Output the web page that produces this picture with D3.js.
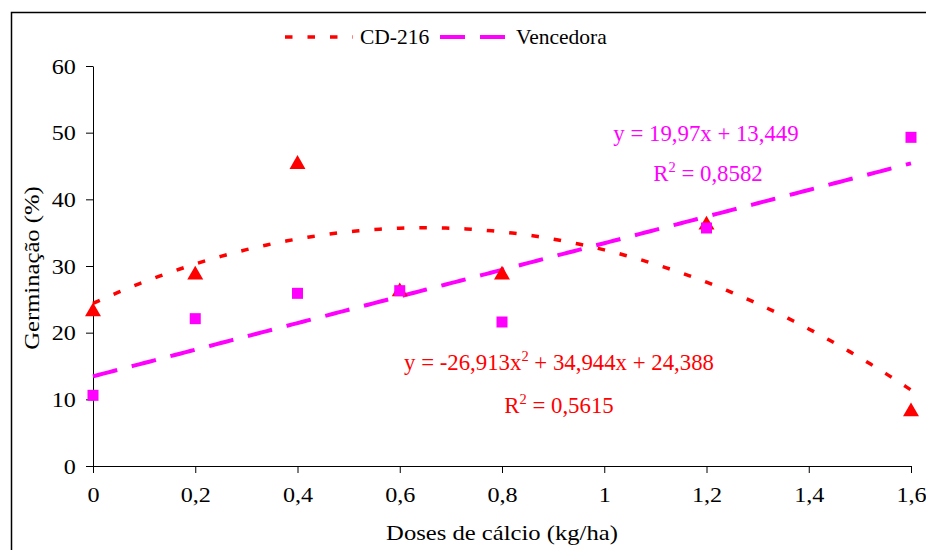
<!DOCTYPE html>
<html><head><meta charset="utf-8">
<script src="https://cdn.jsdelivr.net/npm/d3@7"></script>
<style>body{margin:0;background:#fff}svg{display:block}
svg text{font-family:"Liberation Serif",Tinos,"Times New Roman",Times,serif !important}</style>
</head><body><svg id="c" width="926" height="550"></svg>
<script>
const doses = [0, 0.2, 0.4, 0.6, 0.8, 1.2, 1.6];
const cd216 = [23.5, 29.0, 45.6, 26.5, 29.0, 36.5, 8.5];
const vencedora = [10.6, 22.1, 25.9, 26.3, 21.6, 35.7, 49.3];
const xTicks = [0, 0.2, 0.4, 0.6, 0.8, 1, 1.2, 1.4, 1.6];
const yTicks = [0, 10, 20, 30, 40, 50, 60];
const cdCoef = [24.388, 34.944, -26.913];   // c0 + c1 x + c2 x^2
const vcCoef = [13.449, 19.97];
const seriesNames = ["CD-216", "Vencedora"];
const colors = ["#ff0000", "#ff00ff"];

const svg = d3.select("#c");
const x = d3.scaleLinear().domain([0, 1.6]).range([93, 911]);
const y = d3.scaleLinear().domain([0, 60]).range([466, 66]);
const fmt = d => String(d).replace(".", ",");
const FF = '"Liberation Serif", Tinos, "Times New Roman", Times, serif';

// outer frame
svg.append("rect").attr("x", 11.5).attr("y", 12.5).attr("width", 940).attr("height", 560)
  .attr("fill", "none").attr("stroke", "#000").attr("stroke-width", 1.5);

// axes
const gy = svg.append("g").attr("transform", "translate(93,0)")
  .call(d3.axisLeft(y).tickValues(yTicks).tickSize(7).tickSizeOuter(0).tickFormat(d => d));
const gx = svg.append("g").attr("transform", "translate(0,466)")
  .call(d3.axisBottom(x).tickValues(xTicks).tickSize(7).tickSizeOuter(0).tickFormat(fmt));
[gx, gy].forEach(g => {
  g.attr("font-family", FF).attr("font-size", 21);
  g.select(".domain").attr("stroke", "#000").attr("stroke-width", 1);
  g.selectAll(".tick line").attr("stroke", "#000");
  g.selectAll("text").attr("fill", "#000");
});
gy.selectAll("text").attr("x", -15).attr("dy", "0.34em").attr("transform", "scale(1.15,1)");
gx.selectAll("text").attr("y", 21).attr("transform", "scale(1.15,1)");

// axis titles
svg.append("text").attr("transform", "translate(502,540) scale(1.12,1)").attr("text-anchor", "middle")
  .attr("font-family", FF).attr("font-size", 22).text("Doses de cálcio (kg/ha)");
svg.append("text").attr("transform", "translate(39,268) rotate(-90) scale(1.12,1)").attr("text-anchor", "middle")
  .attr("font-family", FF).attr("font-size", 22).text("Germinação (%)");

// trend lines
const xs = d3.range(0, 1.6001, 0.01);
const line = d3.line().x(d => x(d[0])).y(d => y(d[1]));
svg.append("path").datum(xs.map(v => [v, cdCoef[0] + cdCoef[1] * v + cdCoef[2] * v * v]))
  .attr("d", line).attr("fill", "none").attr("stroke", colors[0]).attr("stroke-width", 3.5)
  .attr("stroke-dasharray", "7.5,15");
svg.append("path").datum(xs.map(v => [v, vcCoef[0] + vcCoef[1] * v]))
  .attr("d", line).attr("fill", "none").attr("stroke", colors[1]).attr("stroke-width", 4)
  .attr("stroke-dasharray", "25,15");

// markers (triangle bounding box centred on the value)
svg.append("g").selectAll("path").data(doses).join("path")
  .attr("transform", (d, i) => `translate(${x(d)},${y(cd216[i]) + 2.3})`)
  .attr("d", d3.symbol().type(d3.symbolTriangle).size(110)).attr("fill", colors[0]);
svg.append("g").selectAll("rect").data(doses).join("rect")
  .attr("x", d => x(d) - 5.5).attr("y", (d, i) => y(vencedora[i]) - 5.5)
  .attr("width", 11).attr("height", 11).attr("fill", colors[1]);

// legend
const leg = [{x1: 285, x2: 353, tx: 360, dash: "7.5,15", w: 3.5}, {x1: 440, x2: 507, tx: 516, dash: "25,15", w: 4}];
leg.forEach((l, i) => {
  svg.append("line").attr("x1", l.x1).attr("x2", l.x2).attr("y1", 37).attr("y2", 37)
    .attr("stroke", colors[i]).attr("stroke-width", l.w).attr("stroke-dasharray", l.dash);
  svg.append("text").attr("x", l.tx).attr("y", 44).attr("font-family", FF).attr("font-size", 21.5).text(seriesNames[i]);
});

// equations
function eq(parts, cx, cy, col) {
  const t = svg.append("text").attr("x", cx).attr("y", cy).attr("text-anchor", "middle")
    .attr("font-family", FF).attr("font-size", 22.8).attr("fill", col);
  parts.forEach(p => {
    if (p.sup) t.append("tspan").attr("dy", -9).attr("font-size", 14.5).text(p.s);
    else if (p.after) t.append("tspan").attr("dy", 9).text(p.s);
    else t.append("tspan").text(p.s);
  });
}
eq([{s: "y = 19,97x + 13,449"}], 706, 141, colors[1]);
eq([{s: "R"}, {s: "2", sup: true}, {s: " = 0,8582", after: true}], 708, 181, colors[1]);
eq([{s: "y = -26,913x"}, {s: "2", sup: true}, {s: " + 34,944x + 24,388", after: true}], 559, 370, colors[0]);
eq([{s: "R"}, {s: "2", sup: true}, {s: " = 0,5615", after: true}], 559, 413, colors[0]);
</script></body></html>
